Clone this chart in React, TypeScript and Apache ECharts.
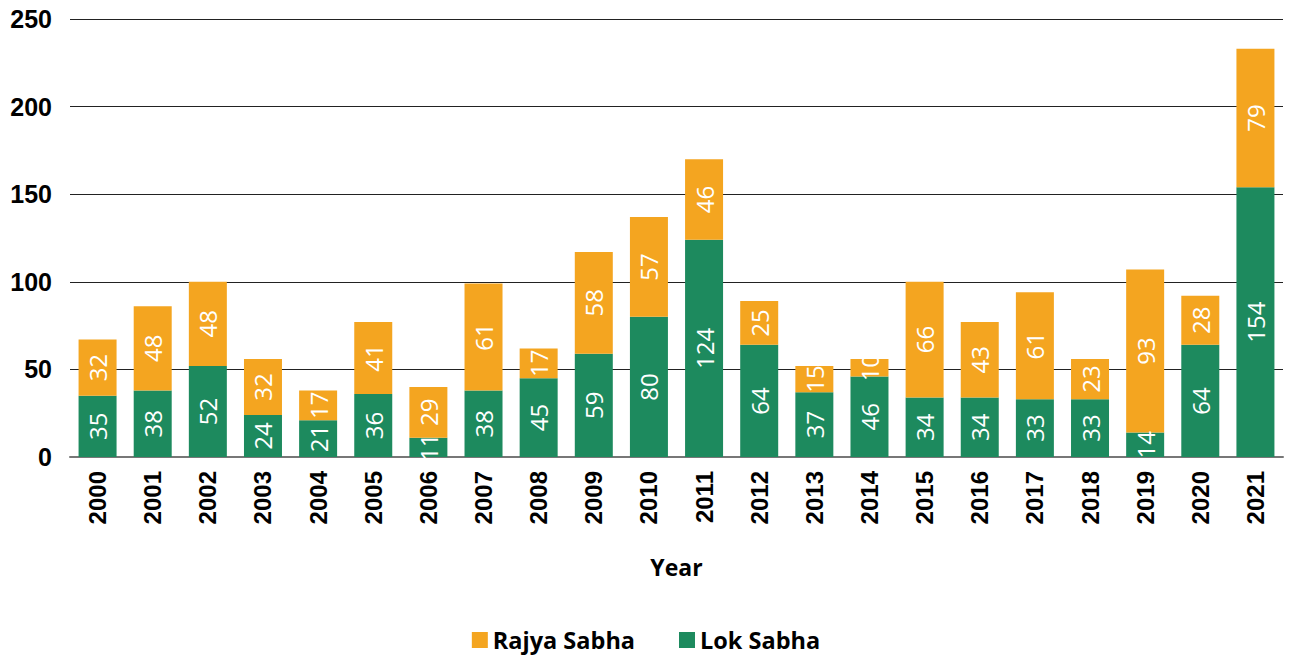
import React, { useEffect, useRef } from "react";
import * as echarts from "echarts";

const years = ["2000","2001","2002","2003","2004","2005","2006","2007","2008","2009","2010","2011","2012","2013","2014","2015","2016","2017","2018","2019","2020","2021"];
const lokSabha = [35,38,52,24,21,36,11,38,45,59,80,124,64,37,46,34,34,33,33,14,64,154];
const rajyaSabha = [32,48,48,32,17,41,29,61,17,58,57,46,25,15,10,66,43,61,23,93,28,79];
const yTicks = [0, 50, 100, 150, 200, 250];

const ORANGE = "#F4A520";
const GREEN = "#1D8A5E";

export default function App() {
  const ref = useRef<HTMLDivElement>(null);
  useEffect(() => {
    document.body.style.margin = "0";
    const chart = echarts.init(ref.current!, null, { renderer: "svg" });
    const label = {
      show: true,
      position: "inside",
      rotate: 90,
      color: "#fff",
      fontFamily: "Open Sans",
      fontSize: 24,
      fontWeight: "normal",
    };
    chart.setOption({
      animation: false,
      grid: { left: 70, right: 9, top: 19, bottom: 198, containLabel: false },
      legend: {
        data: ["Rajya Sabha", "Lok Sabha"],
        top: 628,
        left: "center",
        itemWidth: 16,
        itemHeight: 16,
        itemGap: 44,
        icon: "rect",
        padding: 0,
        textStyle: { fontFamily: "Open Sans", fontWeight: "bold", fontSize: 23.5, color: "#000", lineHeight: 23 },
      },
      xAxis: {
        type: "category",
        data: years,
        name: "Year",
        nameLocation: "middle",
        nameGap: 98,
        nameTextStyle: { fontFamily: "Open Sans", fontWeight: "bold", fontSize: 23, color: "#000" },
        axisLine: { lineStyle: { color: "#777", width: 2 } },
        axisTick: { show: false },
        axisLabel: {
          rotate: 90,
          fontFamily: "Liberation Sans",
          fontWeight: "bold",
          fontSize: 24,
          color: "#000",
          margin: 14,
        },
      },
      yAxis: {
        type: "value",
        min: 0,
        max: 250,
        interval: 50,
        axisLine: { show: false },
        axisTick: { show: false },
        axisLabel: {
          fontFamily: "Liberation Sans",
          fontWeight: "bold",
          fontSize: 25,
          color: "#000",
          margin: 18,
          formatter: (v: number) => (yTicks.includes(v) ? String(v) : ""),
        },
        splitLine: { lineStyle: { color: "#222", width: 1 } },
      },
      series: [
        {
          name: "Lok Sabha",
          type: "bar",
          stack: "total",
          data: lokSabha,
          barWidth: 38,
          itemStyle: { color: GREEN },
          label,
        },
        {
          name: "Rajya Sabha",
          type: "bar",
          stack: "total",
          data: rajyaSabha,
          barWidth: 38,
          itemStyle: { color: ORANGE },
          label,
        },
      ],
    });
    return () => chart.dispose();
  }, []);
  return <div ref={ref} style={{ width: 1292, height: 655 }} />;
}
